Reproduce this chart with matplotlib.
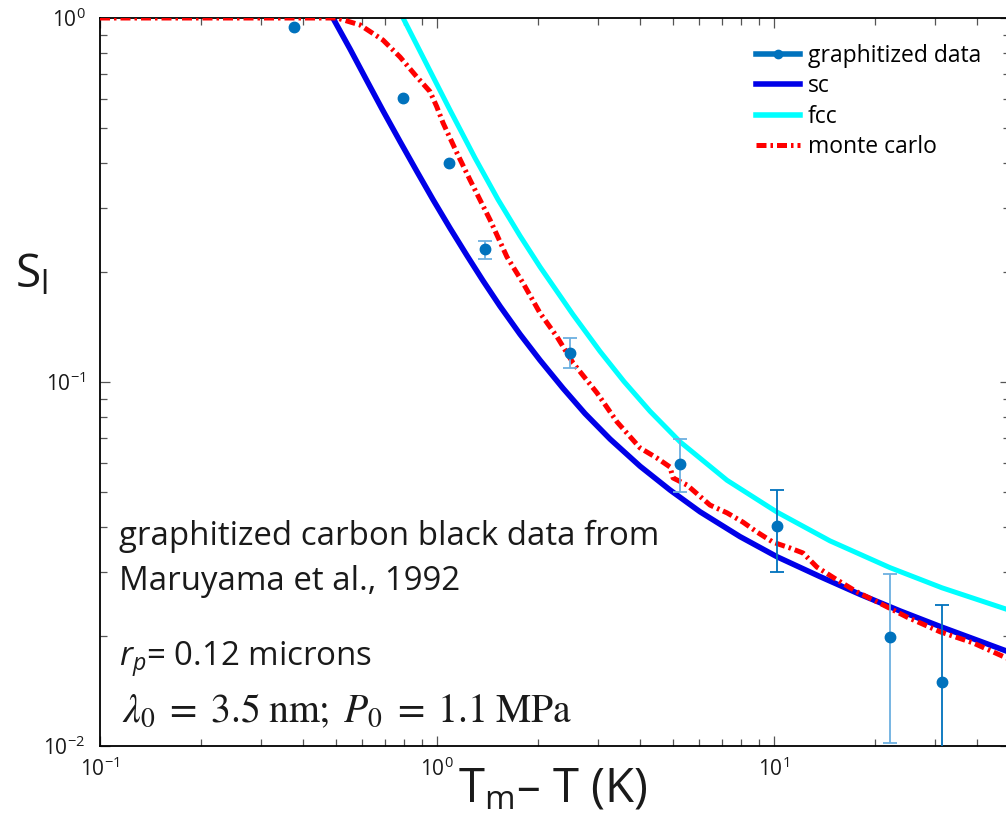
"""S_l vs undercooling: graphitized carbon black data vs sc / fcc / monte carlo."""

import matplotlib
matplotlib.use("Agg")
import matplotlib.pyplot as plt
from matplotlib.lines import Line2D
from matplotlib.ticker import NullFormatter

# ── data ──────────────────────────────────────────────────────────────────────
data_x = [0.376, 0.793, 1.085, 1.385, 2.48, 5.25, 10.2, 22.1, 31.6]
data_y = [0.945, 0.603, 0.400, 0.232, 0.120, 0.0595, 0.0402, 0.0199, 0.0150]
data_lo = [0.945, 0.603, 0.400, 0.218, 0.109, 0.0498, 0.0300, 0.0102, 0.0050]
data_hi = [0.945, 0.603, 0.400, 0.244, 0.132, 0.0696, 0.0504, 0.0296, 0.0244]

sc_x = [0.491, 0.552, 0.620, 0.691, 0.777, 0.872, 0.973, 1.093, 1.228, 1.369,
        1.538, 1.763, 2.021, 2.365, 2.749, 3.262, 4.004, 4.913, 6.031, 7.927,
        10.21, 13.69, 17.99, 23.65, 31.51, 40.86, 50.0]
sc_y = [1.0, 0.8219, 0.6713, 0.5566, 0.4575, 0.3785, 0.3170, 0.2646, 0.2223, 0.1898,
        0.1615, 0.1353, 0.1148, 0.0961, 0.0819, 0.0697, 0.0587, 0.0505, 0.0440, 0.0376,
        0.0331, 0.0292, 0.0261, 0.0235, 0.0212, 0.0194, 0.0181]

fcc_x = [0.793, 1.093, 1.297, 1.517, 1.763, 2.021, 2.533, 3.045, 3.588, 4.286,
         5.261, 7.254, 10.21, 14.66, 22.09, 31.51, 50.0]
fcc_y = [1.0, 0.5584, 0.4122, 0.3172, 0.2521, 0.2072, 0.1531, 0.1214, 0.1003, 0.0831,
         0.0685, 0.0537, 0.0439, 0.0366, 0.0309, 0.0272, 0.0236]

mc_x = [0.1, 0.505, 0.591, 0.691, 0.777, 0.870, 0.953, 0.998, 1.042, 1.146,
        1.253, 1.437, 1.613, 1.800, 2.021, 2.271, 2.533, 2.984, 3.42, 4.003,
        4.496, 4.913, 5.015, 5.52, 6.458, 7.253, 8.09, 8.905, 9.93, 11.15,
        12.19, 13.41, 15.38, 17.63, 20.21, 24.81, 31.09, 38.95, 50.0]
mc_y = [1.0, 1.0, 0.957, 0.870, 0.781, 0.690, 0.628, 0.571, 0.515, 0.4257,
        0.359, 0.2787, 0.2205, 0.187, 0.1547, 0.133, 0.1128, 0.0933, 0.0777, 0.0659,
        0.0618, 0.0584, 0.0545, 0.0521, 0.0459, 0.0437, 0.0412, 0.0387, 0.0363, 0.0350,
        0.0339, 0.0310, 0.0286, 0.0265, 0.0249, 0.0226, 0.0206, 0.0192, 0.0173]

legend_labels = ["graphitized data", "sc", "fcc", "monte carlo"]

# ── style ─────────────────────────────────────────────────────────────────────
DATA_C = "#0072bd"
ERR_LIGHT = "#6cb0e0"
SC_C = "#0000e8"
FCC_C = "#00ffff"
MC_C = "#ff0000"
TXT = "#1a1a1a"
err_colors = [ERR_LIGHT, ERR_LIGHT, ERR_LIGHT, ERR_LIGHT, ERR_LIGHT,
              ERR_LIGHT, DATA_C, ERR_LIGHT, DATA_C]
MC_DASH = (2.0, 0.8, 0.5, 0.8)

plt.rcParams.update({
    "font.family": ["Open Sans", "DejaVu Sans"],
    "mathtext.fontset": "custom",
    "mathtext.rm": "Open Sans",
    "mathtext.it": "Open Sans:italic",
    "mathtext.bf": "Open Sans:bold",
})

W, H = 1006, 815
AX_L, AX_R, AX_T, AX_B = 100, 1009.6, 18, 746   # pixel box of the axes
AX_W, AX_H = AX_R - AX_L, AX_B - AX_T

fig = plt.figure(figsize=(W / 100, H / 100), dpi=100)
ax = fig.add_axes([AX_L / W, 1 - AX_B / H, AX_W / W, AX_H / H])

ax.plot(sc_x, sc_y, color=SC_C, lw=4.0, zorder=2)
ax.plot(fcc_x, fcc_y, color=FCC_C, lw=3.6, zorder=2)
ax.plot(mc_x, mc_y, color=MC_C, lw=3.6, dashes=MC_DASH, zorder=3)

for x, y, lo, hi, c in zip(data_x, data_y, data_lo, data_hi, err_colors):
    if hi - lo > 0:
        ax.errorbar([x], [y], yerr=[[y - lo], [hi - y]], fmt="none",
                    ecolor=c, elinewidth=1.3, capsize=5, capthick=1.3, zorder=4)
ax.plot(data_x, data_y, linestyle="none", marker="o", ms=7.5,
        color=DATA_C, mec=DATA_C, zorder=5)

ax.set_xscale("log")
ax.set_yscale("log")
ax.set_xlim(0.1, 50)
ax.set_ylim(0.01, 1)
ax.xaxis.set_minor_formatter(NullFormatter())
ax.yaxis.set_minor_formatter(NullFormatter())

ax.tick_params(which="both", direction="in", top=True, right=True,
               color="#555555", labelsize=15, labelcolor=TXT)
ax.tick_params(which="major", length=7.5, width=0.9)
ax.tick_params(which="minor", length=5, width=0.9)
ax.tick_params(axis="y", pad=10.5)
ax.tick_params(axis="x", pad=8.5)
for s in ax.spines.values():
    s.set_linewidth(1.3)

ax.set_xlabel("$\\mathrm{T_m}$\u2013 T (K)", fontsize=34, color=TXT, va="center")
ax.xaxis.set_label_coords((553 - AX_L) / AX_W, (AX_B - 789) / AX_H)
ax.set_ylabel("S$_\\mathrm{l}$", fontsize=33, rotation=0, color=TXT,
              ha="center", va="center")
ax.yaxis.set_label_coords((32 - AX_L) / AX_W, (AX_B - 275) / AX_H)

handles = [
    Line2D([], [], color=DATA_C, lw=4, marker="o", ms=6),
    Line2D([], [], color=SC_C, lw=4),
    Line2D([], [], color=FCC_C, lw=4),
    Line2D([], [], color=MC_C, lw=3.6, dashes=MC_DASH),
]
ax.legend(handles, legend_labels, loc="upper left", frameon=False,
          bbox_to_anchor=((756 - AX_L) / AX_W, (AX_B - 44) / AX_H),
          fontsize=16.5, handlelength=1.9, handletextpad=0.35,
          labelspacing=0.28, borderpad=0, borderaxespad=0)

# annotation block
fig.text(119 / W, 1 - 545 / H, "graphitized carbon black data from",
         fontsize=23.8, va="baseline", color=TXT)
fig.text(119 / W, 1 - 590 / H, "Maruyama et al., 1992",
         fontsize=23.8, va="baseline", color=TXT)
fig.text(119 / W, 1 - 666 / H, "$r_p$= 0.12 microns",
         fontsize=23.8, va="baseline", color=TXT)
fig.text(122 / W, 1 - 722 / H,
         "$\\lambda_0\\;=\\;3.5\\;\\mathrm{nm};\\;P_0\\;=\\;1.1\\;\\mathrm{MPa}$",
         fontsize=28.5, va="baseline", color=TXT, math_fontfamily="stix")

fig.savefig("out.png", dpi=100)
